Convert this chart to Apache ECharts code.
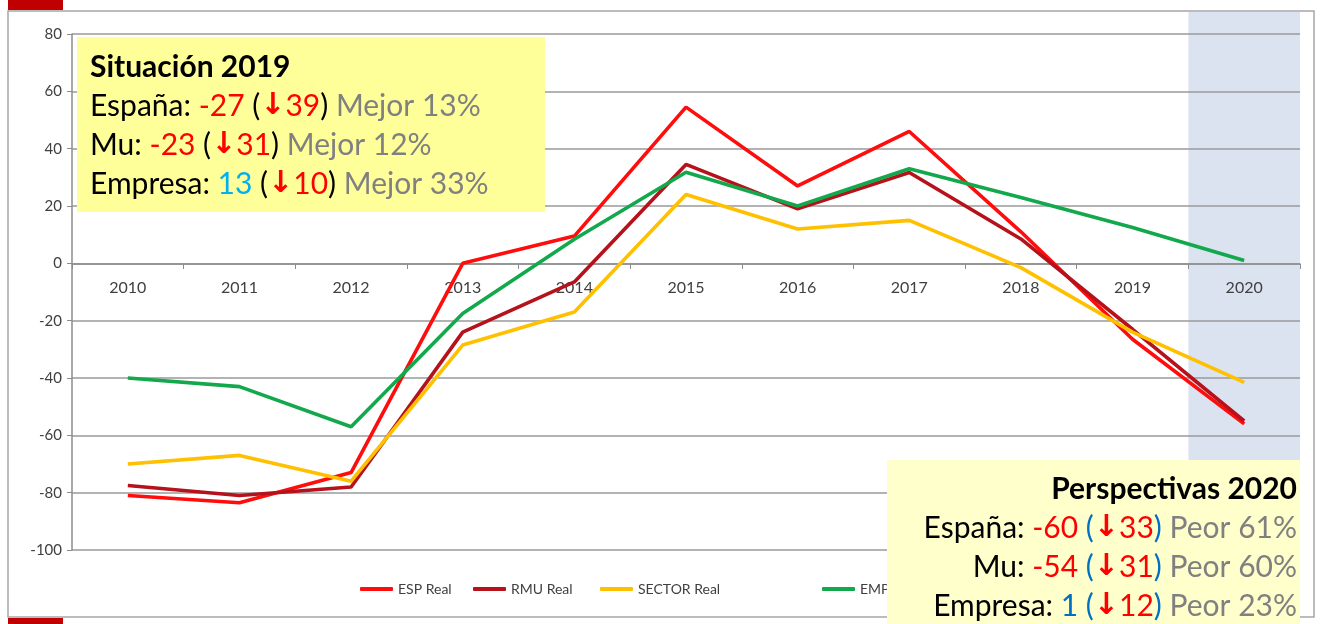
<!DOCTYPE html>
<html>
<head>
<meta charset="utf-8">
<style>html,body{margin:0;padding:0;background:#fff}#c{width:1322px;height:624px}</style>
<script src="https://cdn.jsdelivr.net/npm/echarts@6/dist/echarts.min.js"></script>
</head>
<body>
<div id="c"></div>
<script>
const categories = ['2010','2011','2012','2013','2014','2015','2016','2017','2018','2019','2020'];
const espReal    = [-81, -83.5, -73, 0, 9.5, 54.5, 27, 46, 11, -26.5, -56];
const rmuReal    = [-77.5, -81, -78, -24, -6.5, 34.5, 19, 31.7, 8.5, -23, -55];
const sectorReal = [-70, -67, -76, -28.5, -17, 24, 12, 15, -1.5, -24, -41.5];
const empReal    = [-40, -43, -57, -17.5, 8.4, 31.8, 20, 33, 23, 12.5, 1];
const yTicks = { min: -100, max: 80, interval: 20 };
const highlightCategory = '2020';
const seriesNames = ['ESP Real', 'RMU Real', 'SECTOR Real', 'EMPRESA Real'];

const band = categories.map(c => c === highlightCategory ? 1 : null);
const colors = ['#ff0d0d', '#b5121b', '#ffc000', '#12a84c'];
const F = 'Lato, "Open Sans", sans-serif';
const legendLeft = [355, 468, 595, 817];

const chart = echarts.init(document.getElementById('c'), null, { renderer: 'canvas' });

function lineSeries(name, data, color) {
  return {
    name, type: 'line', data, xAxisIndex: 0, yAxisIndex: 0,
    showSymbol: false, symbol: 'none', z: 5,
    lineStyle: { color, width: 3.6 }, itemStyle: { color },
    emphasis: { disabled: true }, animation: false
  };
}

const FS = 30, LH = 39;
const rich = {
  t: { fontFamily: F, fontSize: FS, fontWeight: 'bold', fill: '#000', lineHeight: LH },
  k: { fontFamily: F, fontSize: FS, fill: '#000', lineHeight: LH },
  r: { fontFamily: F, fontSize: FS, fill: '#ff0000', lineHeight: LH },
  c: { fontFamily: F, fontSize: FS, fill: '#00b0f0', lineHeight: LH },
  b: { fontFamily: F, fontSize: FS, fill: '#0070c0', lineHeight: LH },
  a: { fontFamily: '"DejaVu Sans", sans-serif', fontSize: 30, fontWeight: 'bold', fill: '#ff0000', lineHeight: LH },
  g: { fontFamily: F, fontSize: FS, fill: '#808080', lineHeight: LH }
};

const box1 = '{t|Situación 2019}\n' +
  '{k|España: }{r|-27}{k| (}{a|↓}{r|39}{k|)}{g| Mejor 13%}\n' +
  '{k|Mu: }{r|-23}{k| (}{a|↓}{r|31}{k|)}{g| Mejor 12%}\n' +
  '{k|Empresa: }{c|13}{k| (}{a|↓}{r|10}{k|)}{g| Mejor 33%}';
const box2 = '{t|Perspectivas 2020}\n' +
  '{k|España: }{r|-60}{b| (}{a|↓}{r|33}{b|)}{g| Peor 61%}\n' +
  '{k|Mu: }{r|-54}{b| (}{a|↓}{r|31}{b|)}{g| Peor 60%}\n' +
  '{k|Empresa: }{b|1}{b| (}{a|↓}{r|12}{b|)}{g| Peor 23%}';

chart.setOption({
  animation: false,
  backgroundColor: '#ffffff',
  grid: [
    { left: 72, right: 22, top: 34, bottom: 74 },
    { left: 72, right: 22, top: 12, bottom: 7 },
    { left: 72, right: 22, top: 34, bottom: 360 }
  ],
  legend: seriesNames.map((n, i) => ({
    data: [n], left: legendLeft[i], top: 577,
    itemWidth: 33, itemHeight: 4, icon: 'roundRect',
    textStyle: { fontFamily: F, fontSize: 14, color: '#404040' }
  })),
  xAxis: [
    {
      type: 'category', data: categories, gridIndex: 0, boundaryGap: true,
      axisLine: { show: false }, axisTick: { show: false }, axisLabel: { show: false },
      splitLine: { show: false }
    },
    { type: 'category', data: categories, gridIndex: 1, boundaryGap: true, show: false },
    {
      type: 'category', data: categories, gridIndex: 2, boundaryGap: true, position: 'bottom',
      axisLine: { show: true, onZero: false, lineStyle: { color: '#8c8c8c', width: 1.5 } },
      axisTick: { show: true, length: 5, alignWithLabel: false, lineStyle: { color: '#8c8c8c' } },
      axisLabel: { color: '#404040', fontFamily: F, fontSize: 16, margin: 16 },
      splitLine: { show: false }, z: 3
    }
  ],
  yAxis: [
    {
      type: 'value', gridIndex: 0, min: yTicks.min, max: yTicks.max, interval: yTicks.interval,
      axisLine: { show: true, lineStyle: { color: '#8c8c8c', width: 1.5 } },
      axisTick: { show: true, length: 5, lineStyle: { color: '#8c8c8c' } },
      axisLabel: { color: '#404040', fontFamily: F, fontSize: 15, margin: 10 },
      splitLine: { show: true, lineStyle: { color: '#9a9a9a', width: 1.5 } }, z: 3
    },
    { type: 'value', gridIndex: 1, min: 0, max: 1, show: false },
    { type: 'value', gridIndex: 2, min: 0, max: 1, show: false }
  ],
  series: [
    {
      name: 'band', type: 'bar', xAxisIndex: 1, yAxisIndex: 1, data: band,
      barWidth: '100%', itemStyle: { color: '#dce3f0' }, z: -1, silent: true,
      emphasis: { disabled: true }
    },
    lineSeries(seriesNames[0], espReal, colors[0]),
    lineSeries(seriesNames[1], rmuReal, colors[1]),
    lineSeries(seriesNames[2], sectorReal, colors[2]),
    lineSeries(seriesNames[3], empReal, colors[3])
  ],
  graphic: [
    { type: 'rect', z: 50, silent: true, shape: { x: 8, y: 11, width: 1306, height: 606 },
      style: { fill: 'none', stroke: '#a6a6a6', lineWidth: 1.5 } },
    { type: 'rect', z: 50, silent: true, shape: { x: 8, y: 0, width: 55, height: 10 }, style: { fill: '#c00000' } },
    { type: 'rect', z: 50, silent: true, shape: { x: 8, y: 618, width: 55, height: 6 }, style: { fill: '#c00000' } },
    { type: 'rect', z: 60, silent: true, shape: { x: 77, y: 37, width: 468, height: 175 }, style: { fill: '#ffff99' } },
    { type: 'text', z: 61, silent: true, x: 90, y: 48,
      style: { text: box1, rich, align: 'left', verticalAlign: 'top' } },
    { type: 'rect', z: 60, silent: true, shape: { x: 887, y: 460, width: 413, height: 164 }, style: { fill: '#ffffcc' } },
    { type: 'text', z: 61, silent: true, x: 1297, y: 470,
      style: { text: box2, rich, align: 'right', verticalAlign: 'top' } }
  ]
});
</script>
</body>
</html>
